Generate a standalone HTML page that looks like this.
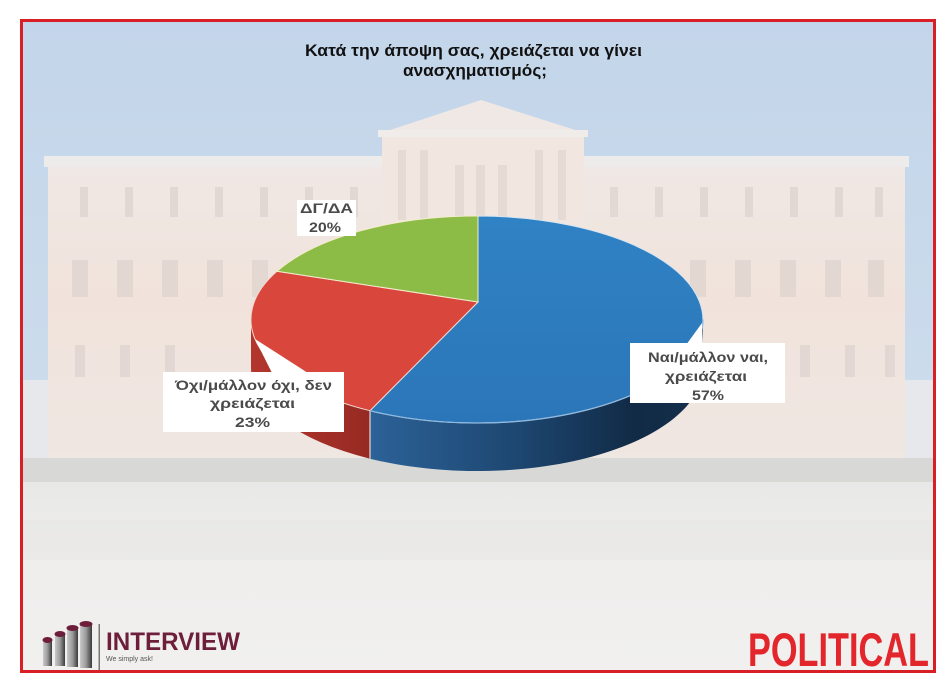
<!DOCTYPE html>
<html>
<head>
<meta charset="utf-8">
<style>
html,body{margin:0;padding:0;background:#fff;}
body{width:950px;height:684px;overflow:hidden;}
svg{display:block;}
text{font-family:"Liberation Sans","DejaVu Sans",sans-serif;}
</style>
</head>
<body>
<svg width="950" height="684" viewBox="0 0 950 684" xmlns="http://www.w3.org/2000/svg">
  <defs>
    <linearGradient id="sky" x1="0" y1="0" x2="0" y2="1">
      <stop offset="0" stop-color="#c3d5ea"/>
      <stop offset="0.6" stop-color="#ccdcec"/>
      <stop offset="1" stop-color="#dfe6ee"/>
    </linearGradient>
    <linearGradient id="bldg" x1="0" y1="0" x2="0" y2="1">
      <stop offset="0" stop-color="#efe8e5"/>
      <stop offset="0.45" stop-color="#f1e3db"/>
      <stop offset="1" stop-color="#efe7e3"/>
    </linearGradient>
    <linearGradient id="ground" x1="0" y1="0" x2="0" y2="1">
      <stop offset="0" stop-color="#e8e8e7"/>
      <stop offset="0.3" stop-color="#eeedec"/>
      <stop offset="1" stop-color="#f1f0ef"/>
    </linearGradient>
    <linearGradient id="blueSide" x1="0" y1="0" x2="1" y2="0">
      <stop offset="0" stop-color="#2c6298"/>
      <stop offset="0.45" stop-color="#1d4670"/>
      <stop offset="0.8" stop-color="#112a45"/>
      <stop offset="1" stop-color="#15304d"/>
    </linearGradient>
    <linearGradient id="redSide" x1="0" y1="0" x2="1" y2="0">
      <stop offset="0" stop-color="#b3362d"/>
      <stop offset="1" stop-color="#962a23"/>
    </linearGradient>
    <linearGradient id="blueTop" x1="0" y1="0" x2="0" y2="1">
      <stop offset="0" stop-color="#2f82c4"/>
      <stop offset="1" stop-color="#2b76b8"/>
    </linearGradient>
    <linearGradient id="barG" x1="0" y1="0" x2="1" y2="0">
      <stop offset="0" stop-color="#c9c9c9"/>
      <stop offset="0.5" stop-color="#9a9a9a"/>
      <stop offset="1" stop-color="#3a3a3a"/>
    </linearGradient>
  </defs>

  <!-- background photo approximation -->
  <rect x="20" y="19" width="916" height="654" fill="url(#sky)"/>
  <rect x="23" y="380" width="910" height="100" fill="#e6e8eb"/>
  <!-- building -->
  <rect x="48" y="160" width="857" height="307" fill="url(#bldg)"/>
  <rect x="44" y="156" width="865" height="11" fill="#eeeceb"/>
  <!-- portico -->
  <polygon points="378,134 481,100 588,134" fill="#efe8e4"/>
  <rect x="382" y="132" width="202" height="335" fill="#f1e6e0"/>
  <rect x="378" y="130" width="210" height="7" fill="#f0ecea"/>
  <g fill="#e2d6d0" opacity="0.7">
    <rect x="398" y="150" width="8" height="70"/>
    <rect x="420" y="150" width="8" height="70"/>
    <rect x="455" y="165" width="9" height="55"/>
    <rect x="476" y="165" width="9" height="55"/>
    <rect x="498" y="165" width="9" height="55"/>
    <rect x="535" y="150" width="8" height="70"/>
    <rect x="558" y="150" width="8" height="70"/>
  </g>
  <!-- windows -->
  <g fill="#dcd1cc" opacity="0.65">
    <rect x="80" y="187" width="8" height="30"/><rect x="125" y="187" width="8" height="30"/><rect x="170" y="187" width="8" height="30"/><rect x="215" y="187" width="8" height="30"/><rect x="260" y="187" width="8" height="30"/><rect x="305" y="187" width="8" height="30"/><rect x="350" y="187" width="8" height="30"/>
    <rect x="610" y="187" width="8" height="30"/><rect x="655" y="187" width="8" height="30"/><rect x="700" y="187" width="8" height="30"/><rect x="745" y="187" width="8" height="30"/><rect x="790" y="187" width="8" height="30"/><rect x="835" y="187" width="8" height="30"/><rect x="875" y="187" width="8" height="30"/>
    <rect x="72" y="260" width="16" height="37"/><rect x="117" y="260" width="16" height="37"/><rect x="162" y="260" width="16" height="37"/><rect x="207" y="260" width="16" height="37"/><rect x="252" y="260" width="16" height="37"/>
    <rect x="690" y="260" width="16" height="37"/><rect x="735" y="260" width="16" height="37"/><rect x="780" y="260" width="16" height="37"/><rect x="825" y="260" width="16" height="37"/><rect x="868" y="260" width="16" height="37"/>
    <rect x="75" y="345" width="10" height="32"/><rect x="120" y="345" width="10" height="32"/><rect x="165" y="345" width="10" height="32"/>
    <rect x="800" y="345" width="10" height="32"/><rect x="845" y="345" width="10" height="32"/><rect x="885" y="345" width="10" height="32"/>
  </g>
  <!-- hedge band and ground -->
  <rect x="23" y="458" width="910" height="24" fill="#d8d9d7"/>
  <rect x="23" y="482" width="910" height="188" fill="url(#ground)"/>
  <rect x="23" y="520" width="910" height="40" fill="#e6e5e4" opacity="0.5"/>

  <!-- border -->
  <rect x="21.5" y="20.5" width="913" height="651" fill="none" stroke="#d91f26" stroke-width="3"/>

  <!-- title -->
  <text x="305" y="56" font-size="17" font-weight="bold" fill="#111" textLength="337" lengthAdjust="spacingAndGlyphs">Κατά την άποψη σας, χρειάζεται να γίνει</text>
  <text x="403" y="76" font-size="17" font-weight="bold" fill="#111" textLength="144" lengthAdjust="spacingAndGlyphs">ανασχηματισμός;</text>

  <!-- pie sides -->
  <path d="M370,410.7 A226,103.5 0 0 0 703,319.5 L703,367.5 A226,103.5 0 0 1 370,458.7 Z" fill="url(#blueSide)"/>
  <path d="M251,319.5 A226,103.5 0 0 0 370,410.7 L370,458.7 A226,103.5 0 0 1 251,367.5 Z" fill="url(#redSide)"/>
  <line x1="370" y1="410.7" x2="370" y2="458.7" stroke="#e9d6d4" stroke-width="1.2"/>

  <!-- pie top -->
  <path d="M478,302 L478,216 A226,103.5 0 1 1 370,410.7 Z" fill="url(#blueTop)" stroke="#d8e4ef" stroke-width="1"/>
  <path d="M478,302 L370,410.7 A226,103.5 0 0 1 277,271.3 Z" fill="#d9463c" stroke="#f0d8d2" stroke-width="1"/>
  <path d="M478,302 L277,271.3 A226,103.5 0 0 1 478,216 Z" fill="#8cbb46" stroke="#f2eccc" stroke-width="1"/>
  <path d="M370,410.7 A226,103.5 0 0 0 703,319.5" fill="none" stroke="#8fb8de" stroke-width="1.3"/>

  <!-- callout wedges -->
  <polygon points="255,339 272,373 308,373" fill="#ffffff"/>
  <polygon points="686,345 702,323 703,345" fill="#ffffff"/>

  <!-- labels -->
  <rect x="297" y="200" width="59" height="36" fill="#ffffff"/>
  <text x="300" y="213" font-size="14" font-weight="bold" fill="#4a4a4a" textLength="53" lengthAdjust="spacingAndGlyphs">ΔΓ/ΔΑ</text>
  <text x="309" y="232" font-size="14" font-weight="bold" fill="#4a4a4a" textLength="32" lengthAdjust="spacingAndGlyphs">20%</text>

  <rect x="630" y="343" width="155" height="60" fill="#ffffff"/>
  <text x="648" y="362" font-size="14" font-weight="bold" fill="#4a4a4a" textLength="120" lengthAdjust="spacingAndGlyphs">Ναι/μάλλον ναι,</text>
  <text x="665" y="381" font-size="14" font-weight="bold" fill="#4a4a4a" textLength="82" lengthAdjust="spacingAndGlyphs">χρειάζεται</text>
  <text x="692" y="400" font-size="14" font-weight="bold" fill="#4a4a4a" textLength="32" lengthAdjust="spacingAndGlyphs">57%</text>

  <rect x="163" y="372" width="181" height="60" fill="#ffffff"/>
  <text x="175" y="390" font-size="14" font-weight="bold" fill="#4a4a4a" textLength="157" lengthAdjust="spacingAndGlyphs">Όχι/μάλλον όχι, δεν</text>
  <text x="210" y="408" font-size="14" font-weight="bold" fill="#4a4a4a" textLength="85" lengthAdjust="spacingAndGlyphs">χρειάζεται</text>
  <text x="235" y="427" font-size="14" font-weight="bold" fill="#4a4a4a" textLength="35" lengthAdjust="spacingAndGlyphs">23%</text>

  <!-- INTERVIEW logo -->
  <g>
    <rect x="43" y="640" width="9" height="26" fill="url(#barG)"/>
    <rect x="55" y="634" width="10" height="32" fill="url(#barG)"/>
    <rect x="67" y="628" width="11" height="39" fill="url(#barG)"/>
    <rect x="80" y="624" width="12" height="44" fill="url(#barG)"/>
    <ellipse cx="47.5" cy="640" rx="5" ry="3" fill="#6d1e3a"/>
    <ellipse cx="60" cy="634" rx="5.5" ry="3" fill="#6d1e3a"/>
    <ellipse cx="72.5" cy="628" rx="6" ry="3" fill="#6d1e3a"/>
    <ellipse cx="86" cy="624" rx="6.5" ry="3" fill="#6d1e3a"/>
    <rect x="98.5" y="624" width="1.5" height="46" fill="#777"/>
    <text x="106" y="650" font-size="25" font-weight="bold" fill="#6d1e3a" textLength="134" lengthAdjust="spacingAndGlyphs">INTERVIEW</text>
    <text x="106" y="661" font-size="7" fill="#555">We simply ask!</text>
  </g>

  <!-- POLITICAL -->
  <text x="748" y="666" font-size="47" font-weight="bold" fill="#e3262b" textLength="181" lengthAdjust="spacingAndGlyphs">POLITICAL</text>
</svg>
</body>
</html>
